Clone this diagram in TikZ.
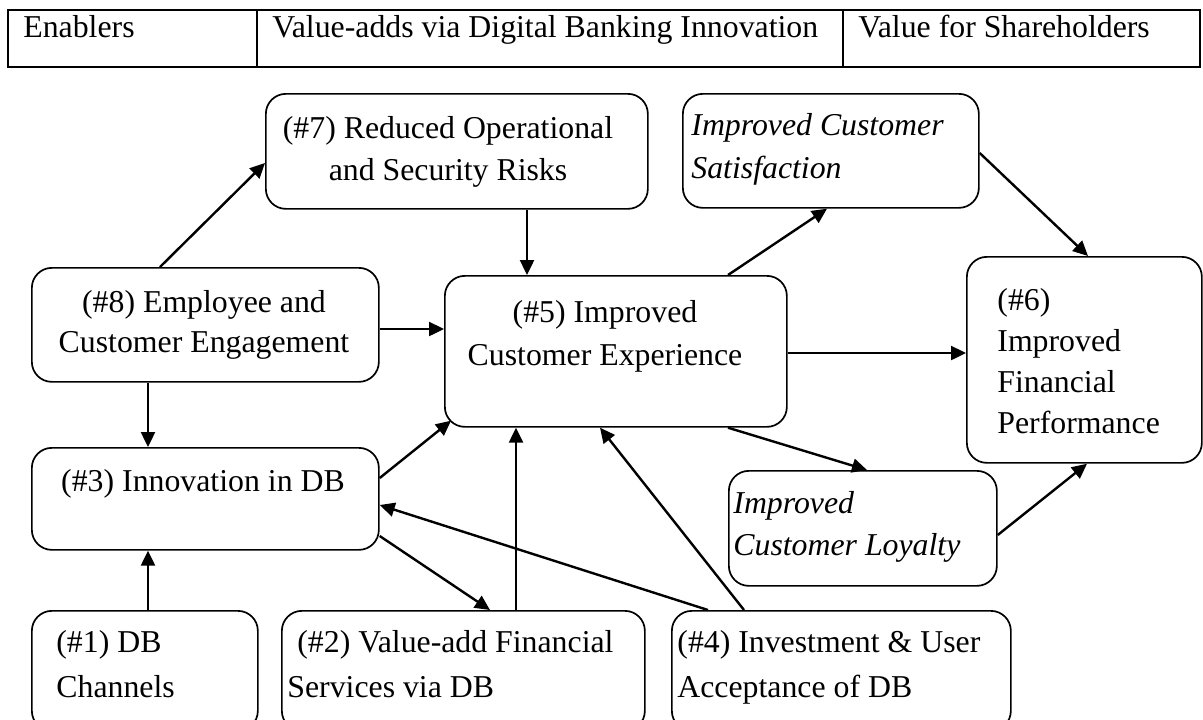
\documentclass[tikz,border=0pt]{standalone}
\usepackage{fontspec}
\setmainfont{Liberation Serif}
\usetikzlibrary{arrows.meta,calc}
\tikzset{
  box/.style={draw, rounded corners=10pt, line width=0.85pt, inner sep=0pt, anchor=north west},
  cell/.style={draw, line width=1pt, inner sep=0pt, anchor=north west},
  txt/.style={inner sep=0pt, font=\fontsize{15.9pt}{20pt}\selectfont},
  tl/.style={txt, anchor=base west},
  tc/.style={txt, anchor=base},
  conn/.style={line width=1.2pt, -{Triangle[length=7.5pt,width=7pt]}},
}
\begin{document}
\begin{tikzpicture}[x=0.5pt,y=-0.5pt]
\useasboundingbox (0,0) rectangle (1203,719);
\clip (0,0) rectangle (1203,719);
% header table
\node[cell, minimum width=124.5pt, minimum height=28.5pt] (h1) at (7,9) {};
\node[cell, minimum width=293pt, minimum height=28.5pt] (h2) at (256,9) {};
\node[cell, minimum width=178.5pt, minimum height=28.5pt] (h3) at (842,9) {};
\node[tl] (ht1) at (23,37) {Enablers};
\node[tl] (ht2) at (272,37) {Value-adds via Digital Banking Innovation};
\node[tl] (ht3) at (858,37) {Value for Shareholders};
% boxes
\node[box, minimum width=191pt, minimum height=57.5pt] (b7) at (265,93) {};
\node[box, minimum width=148pt, minimum height=57pt] (bs) at (682,93) {};
\node[box, minimum width=173.5pt, minimum height=57pt] (b8) at (31,267) {};
\node[box, minimum width=171pt, minimum height=75.5pt] (b5) at (444,275) {};
\node[box, minimum width=117.5pt, minimum height=103pt] (b6) at (966,256) {};
\node[box, minimum width=173.5pt, minimum height=51pt] (b3) at (31,447) {};
\node[box, minimum width=134pt, minimum height=57.5pt] (bl) at (728,470) {};
\node[box, minimum width=113pt, minimum height=60pt] (b1) at (31,610) {};
\node[box, minimum width=181.5pt, minimum height=60pt] (b2) at (281,610) {};
\node[box, minimum width=169.5pt, minimum height=60pt] (b4) at (671,610) {};
% texts
\node[tc] (t7a) at (448,138) {(\#7) Reduced Operational};
\node[tc] (t7b) at (448,180) {and Security Risks};
\node[tl] (tsa) at (691,135) {\itshape Improved Customer};
\node[tl] (tsb) at (691,178) {\itshape Satisfaction};
\node[tc] (t8a) at (204,312) {(\#8) Employee and};
\node[tc] (t8b) at (204,352) {Customer Engagement};
\node[tc] (t5a) at (605,322) {(\#5) Improved};
\node[tc] (t5b) at (605,365) {Customer Experience};
\node[tl] (t6a) at (997,310) {(\#6)};
\node[tl] (t6b) at (997,351) {Improved};
\node[tl] (t6c) at (997,392) {Financial};
\node[tl] (t6d) at (997,433) {Performance};
\node[tc] (t3a) at (203,491) {(\#3) Innovation in DB};
\node[tl] (tla) at (733,513) {\itshape Improved};
\node[tl] (tlb) at (733,555) {\itshape Customer Loyalty};
\node[tl] (t1a) at (56,652) {(\#1) DB};
\node[tl] (t1b) at (56,697) {Channels};
\node[tl] (t2a) at (297,652) {(\#2) Value-add Financial};
\node[tl] (t2b) at (287,697) {Services via DB};
\node[tl] (t4a) at (677,652) {(\#4) Investment \& User};
\node[tl] (t4b) at (677,697) {Acceptance of DB};
% connectors
\draw[conn] (b8.north -| 160,0) -- (b7.west |- 0,163);
\draw[conn] (b7.south -| 527,0) -- (b5.north -| 527,0);
\draw[conn] (b8.east |- 0,329) -- (b5.west |- 0,329);
\draw[conn] (b8.south -| 148,0) -- (b3.north -| 148,0);
\draw[conn] (b1.north -| 148,0) -- (b3.south -| 148,0);
\draw[conn] (b3.east |- 0,478) -- ($(b5.south west)+(7,-7)$);
\draw[conn] (b3.east |- 0,536) -- (b2.north -| 490,0);
\draw[conn] (b2.north -| 516,0) -- (b5.south -| 516,0);
\draw[conn] (b4.north -| 708,0) -- (b3.east |- 0,505);
\draw[conn] (b4.north -| 744,0) -- (b5.south -| 600,0);
\draw[conn] (b5.north -| 728,0) -- (bs.south -| 827,0);
\draw[conn] (b5.east |- 0,353) -- (b6.west |- 0,353);
\draw[conn] (b5.south -| 728,0) -- (bl.north -| 867,0);
\draw[conn] (bs.east |- 0,153) -- (b6.north -| 1088,0);
\draw[conn] (bl.east |- 0,535) -- (b6.south -| 1087,0);
\end{tikzpicture}
\end{document}
